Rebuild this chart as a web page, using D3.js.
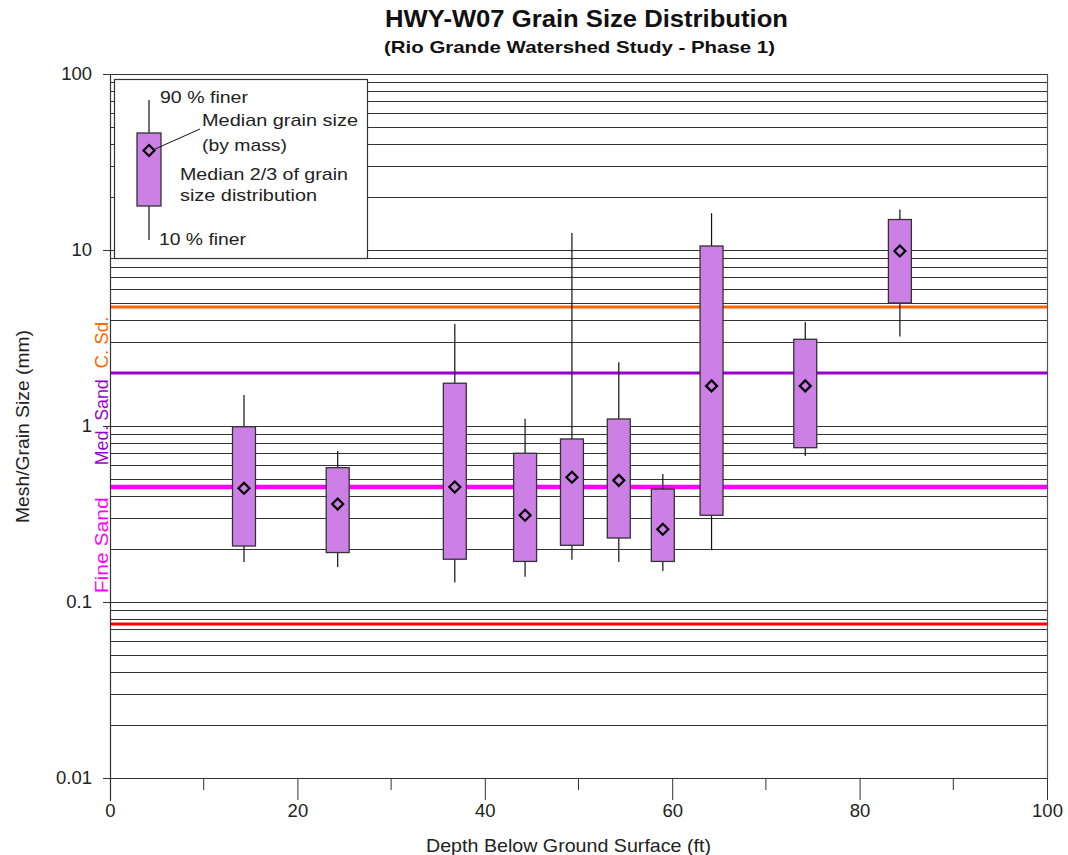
<!DOCTYPE html>
<html>
<head>
<meta charset="utf-8">
<script src="https://cdn.jsdelivr.net/npm/d3@7"></script>
<style>
  html, body { margin: 0; padding: 0; background: #fff; }
  svg { display: block; font-family: "Liberation Sans", Arial, sans-serif; }
</style>
</head>
<body>
<svg id="chart" width="1068" height="855"></svg>
<script>
// Sample depths (ft) and grain size statistics (mm)
const depths    = [14.3, 24.3, 36.8, 44.3, 49.3, 54.3, 59.0, 64.2, 74.2, 84.3];
const finer10   = [0.169, 0.158, 0.129, 0.139, 0.174, 0.169, 0.150, 0.197, 0.675, 3.22];
const boxLow    = [0.208, 0.191, 0.175, 0.170, 0.210, 0.231, 0.170, 0.311, 0.753, 5.0];
const medians   = [0.443, 0.360, 0.450, 0.311, 0.511, 0.491, 0.259, 1.69, 1.69, 9.87];
const boxHigh   = [0.99, 0.58, 1.75, 0.70, 0.844, 1.096, 0.438, 10.54, 3.11, 14.9];
const finer90   = [1.50, 0.721, 3.80, 1.10, 12.5, 2.30, 0.534, 16.2, 3.90, 17.0];

// Soil class boundaries (mm)
const boundaryValues = [4.75, 2.0, 0.45, 0.075];
const boundaryColors = ["#ff6600", "#9900cc", "#ff00ff", "#ff0000"];

// Axis ticks
const xTicks = [0, 20, 40, 60, 80, 100];
const xMinorTicks = [10, 30, 50, 70, 90];
const yTicks = [0.01, 0.1, 1, 10, 100];
const yTickLabels = ["0.01", "0.1", "1", "10", "100"];

// Class labels along the y axis
const zoneLabels = ["Fine Sand", "Med. Sand", "C. Sd."];
const zoneColors = ["#ff00ff", "#9900cc", "#ff6600"];
const zoneCenters = [0.21, 1.05, 2.98];

const titleText = "HWY-W07 Grain Size Distribution";
const subtitleText = "(Rio Grande Watershed Study - Phase 1)";
const xTitle = "Depth Below Ground Surface (ft)";
const yTitle = "Mesh/Grain Size (mm)";

const svg = d3.select("#chart");
const plotLeft = 110, plotRight = 1047, plotTop = 74, plotBottom = 778;
const FONT = "Liberation Sans, Arial, sans-serif";

const x = d3.scaleLinear().domain([0, 100]).range([plotLeft, plotRight]);
const y = d3.scaleLog().domain([0.01, 100]).range([plotBottom, plotTop]);

const boxFill = "#cc80e6";
const boxWidthFt = 2.45;

// Horizontal grid at every log step
const gridVals = [];
for (let e = -2; e < 2; e++) {
  for (let m = 1; m < 10; m++) gridVals.push(m * Math.pow(10, e));
}
gridVals.push(100);

svg.append("g").selectAll("line").data(gridVals).join("line")
  .attr("x1", plotLeft).attr("x2", plotRight)
  .attr("y1", d => Math.round(y(d)) + 0.5).attr("y2", d => Math.round(y(d)) + 0.5)
  .attr("stroke", "#333").attr("stroke-width", 1.1);

// Right border
svg.append("line").attr("x1", plotRight + 0.5).attr("x2", plotRight + 0.5)
  .attr("y1", plotTop).attr("y2", plotBottom).attr("stroke", "#555").attr("stroke-width", 1.2);

// Boundary lines
svg.append("g").selectAll("line").data(boundaryValues).join("line")
  .attr("x1", plotLeft).attr("x2", plotRight)
  .attr("y1", d => y(d)).attr("y2", d => y(d))
  .attr("stroke", (d, i) => boundaryColors[i])
  .attr("stroke-width", (d, i) => i === 2 ? 4.5 : 3);

// Y axis
const yAxis = d3.axisLeft(y).tickValues(yTicks)
  .tickFormat((d, i) => yTickLabels[i]).tickSize(7).tickPadding(10);
const gy = svg.append("g").attr("transform", `translate(${plotLeft},0)`).call(yAxis);
gy.select(".domain").attr("stroke", "#333").attr("stroke-width", 1.2)
  .attr("d", `M0.5,${plotTop}V${plotBottom + 23}`);
gy.selectAll(".tick line").attr("stroke", "#333");
gy.selectAll(".tick text").attr("font-size", 18.5).attr("fill", "#222")
  .attr("font-family", FONT).attr("dx", "-1");

// X axis
const xAxis = d3.axisBottom(x).tickValues(xTicks).tickSize(22).tickPadding(4);
const gx = svg.append("g").attr("transform", `translate(0,${plotBottom})`).call(xAxis);
gx.select(".domain").attr("stroke", "#333").attr("stroke-width", 1.2)
  .attr("d", `M${plotLeft},0.5H${plotRight}`);
gx.selectAll(".tick line").attr("stroke", "#333");
gx.selectAll(".tick text").attr("font-size", 18.5).attr("fill", "#222")
  .attr("font-family", FONT);
gx.selectAll(".tick").filter(d => d === 0).select("line").remove();

svg.append("g").selectAll("line").data(xMinorTicks).join("line")
  .attr("x1", d => x(d)).attr("x2", d => x(d))
  .attr("y1", plotBottom).attr("y2", plotBottom + 12)
  .attr("stroke", "#333");

// Box plots
const bw = x(boxWidthFt) - x(0);
const boxes = svg.append("g").selectAll("g").data(depths).join("g");
boxes.append("line")
  .attr("x1", d => x(d)).attr("x2", d => x(d))
  .attr("y1", (d, i) => y(finer90[i])).attr("y2", (d, i) => y(finer10[i]))
  .attr("stroke", "#111").attr("stroke-width", 1.2);
boxes.append("rect")
  .attr("x", d => x(d) - bw / 2).attr("width", bw)
  .attr("y", (d, i) => y(boxHigh[i]))
  .attr("height", (d, i) => y(boxLow[i]) - y(boxHigh[i]))
  .attr("fill", boxFill).attr("stroke", "#333").attr("stroke-width", 1.3);
boxes.append("path")
  .attr("d", (d, i) => {
    const cx = x(d), cy = y(medians[i]), r = 5.5;
    return `M${cx},${cy - r}L${cx + r},${cy}L${cx},${cy + r}L${cx - r},${cy}Z`;
  })
  .attr("fill", boxFill).attr("stroke", "#000").attr("stroke-width", 2.2);

// Legend
const lg = svg.append("g");
lg.append("rect").attr("x", 114.5).attr("y", 79.5).attr("width", 253).attr("height", 179)
  .attr("fill", "#fff").attr("stroke", "#333").attr("stroke-width", 1.2);
lg.append("line").attr("x1", 149).attr("x2", 149).attr("y1", 100).attr("y2", 240)
  .attr("stroke", "#111").attr("stroke-width", 1.2);
lg.append("rect").attr("x", 137).attr("y", 133).attr("width", 24).attr("height", 73)
  .attr("fill", boxFill).attr("stroke", "#333").attr("stroke-width", 1.3);
lg.append("line").attr("x1", 155).attr("y1", 149).attr("x2", 200).attr("y2", 129)
  .attr("stroke", "#111").attr("stroke-width", 1);
lg.append("path").attr("d", "M149,145L154.5,150.5L149,156L143.5,150.5Z")
  .attr("fill", boxFill).attr("stroke", "#000").attr("stroke-width", 2.2);
// [text, x, baseline, rendered width]
const legendText = [
  ["90 % finer", 160, 103, 88],
  ["Median grain size", 202, 126, 156],
  ["(by mass)", 202, 151, 85],
  ["Median 2/3 of grain", 180, 180, 168],
  ["size distribution", 180, 201, 137],
  ["10 % finer", 159, 245, 87]
];
lg.selectAll("text").data(legendText).join("text")
  .attr("x", d => d[1]).attr("y", d => d[2])
  .attr("textLength", d => d[3]).attr("lengthAdjust", "spacingAndGlyphs")
  .attr("font-size", 17).attr("fill", "#222").text(d => d[0]);

// Zone labels beside the y axis
const zoneLengths = [96, 86, 52];
svg.append("g").selectAll("text").data(zoneLabels).join("text")
  .attr("transform", (d, i) => `translate(108,${y(zoneCenters[i])}) rotate(-90)`)
  .attr("x", (d, i) => -zoneLengths[i] / 2)
  .attr("textLength", (d, i) => zoneLengths[i]).attr("lengthAdjust", "spacingAndGlyphs")
  .attr("font-size", 18.5)
  .attr("fill", (d, i) => zoneColors[i]).text(d => d);

// Titles
svg.append("text").attr("x", 385).attr("y", 27)
  .attr("textLength", 403).attr("lengthAdjust", "spacingAndGlyphs")
  .attr("font-size", 23.5).attr("font-weight", "bold").attr("fill", "#111").text(titleText);
svg.append("text").attr("x", 384).attr("y", 53)
  .attr("textLength", 391).attr("lengthAdjust", "spacingAndGlyphs")
  .attr("font-size", 17).attr("font-weight", "bold").attr("fill", "#111").text(subtitleText);
svg.append("text").attr("x", 426).attr("y", 852)
  .attr("textLength", 285).attr("lengthAdjust", "spacingAndGlyphs")
  .attr("font-size", 19).attr("fill", "#222").text(xTitle);
svg.append("text").attr("transform", `translate(29,426.5) rotate(-90)`)
  .attr("x", -96.5)
  .attr("textLength", 193).attr("lengthAdjust", "spacingAndGlyphs")
  .attr("font-size", 19).attr("fill", "#222").text(yTitle);
</script>
</body>
</html>
